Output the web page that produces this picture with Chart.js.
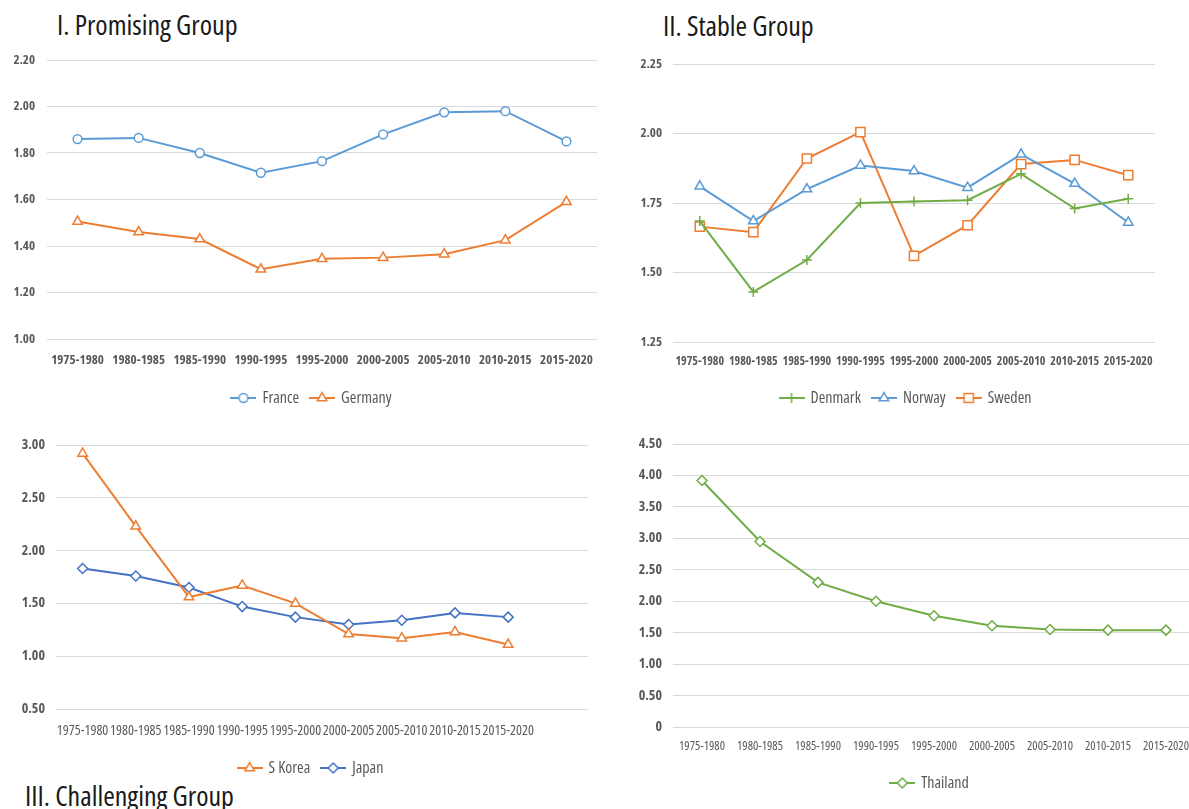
<!DOCTYPE html>
<html>
<head>
<meta charset="utf-8">
<script src="https://cdn.jsdelivr.net/npm/chart.js@4.4.0/dist/chart.umd.min.js"></script>
<style>
  html, body { margin: 0; padding: 0; background: #fff; width: 1189px; height: 809px; overflow: hidden; position: relative; }
  canvas { position: absolute; }
  .title { position: absolute; font-family: 'Open Sans', sans-serif; font-stretch: condensed; font-size: 28px; line-height: 1; color: #1a1a1a; white-space: nowrap; }
</style>
</head>
<body>
<div class="title" style="left:57px; top:10px;">I. Promising Group</div>
<div class="title" style="left:663px; top:11px;">II. Stable Group</div>
<div class="title" style="left:25px; top:781px;">III. Challenging Group</div>

<canvas id="promising" width="624" height="376" style="left:0px; top:40px;"></canvas>
<canvas id="stable" width="612" height="376" style="left:600px; top:40px;"></canvas>
<canvas id="challenging" width="622" height="366" style="left:0px; top:420px;"></canvas>
<canvas id="thailand" width="660" height="381" style="left:600px; top:420px;"></canvas>

<script>
// Five-year periods shared by every panel
const periods = ['1975-1980', '1980-1985', '1985-1990', '1990-1995', '1995-2000',
                 '2000-2005', '2005-2010', '2010-2015', '2015-2020'];
// The challenging-group panel leaves one empty slot at the right end
const challengingSlots = [...periods, ''];

// Total fertility rate per period
const franceTFR   = [1.86, 1.865, 1.80, 1.715, 1.765, 1.88, 1.975, 1.98, 1.85];
const germanyTFR  = [1.505, 1.46, 1.43, 1.30, 1.345, 1.35, 1.365, 1.425, 1.59];
const denmarkTFR  = [1.685, 1.43, 1.545, 1.75, 1.755, 1.76, 1.855, 1.73, 1.765];
const norwayTFR   = [1.81, 1.685, 1.80, 1.885, 1.865, 1.805, 1.925, 1.82, 1.68];
const swedenTFR   = [1.665, 1.645, 1.91, 2.005, 1.56, 1.67, 1.89, 1.905, 1.85];
const skoreaTFR   = [2.92, 2.23, 1.56, 1.67, 1.50, 1.21, 1.17, 1.23, 1.11];
const japanTFR    = [1.83, 1.76, 1.65, 1.47, 1.37, 1.30, 1.34, 1.41, 1.37];
const thailandTFR = [3.92, 2.95, 2.30, 2.00, 1.77, 1.61, 1.55, 1.54, 1.54];

// Y-axis ranges: [min, max, step]
const promisingRange   = [1.0, 2.2, 0.2];
const stableRange      = [1.25, 2.25, 0.25];
const challengingRange = [0.5, 3.0, 0.5];
const thailandRange    = [0, 4.5, 0.5];

const FONT = "'Open Sans', sans-serif";
const TEXT = '#595959';
const GRID = '#D9D9D9';
const BLUE = '#5B9BD5', ORANGE = '#ED7D31', GREEN = '#70AD47', NAVY = '#4472C4';

// Chart.js only emits style/weight/size/family, so add the condensed width
// to every font string the chart sets on its drawing context.
function useCondensedText(canvas) {
  const ctx = canvas.getContext('2d');
  const fontProp = Object.getOwnPropertyDescriptor(CanvasRenderingContext2D.prototype, 'font');
  Object.defineProperty(ctx, 'font', {
    configurable: true,
    get() { return fontProp.get.call(this); },
    set(v) { fontProp.set.call(this, /condensed/.test(v) ? v : 'condensed ' + v); }
  });
  return canvas;
}

// Outline marker path, shared by the legend swatches
function markerPath(g, style, x, y, r) {
  g.beginPath();
  if (style === 'circle') {
    g.arc(x, y, r, 0, Math.PI * 2);
  } else if (style === 'triangle') {
    for (let k = 0; k < 3; k++) {
      const a = k * 2 * Math.PI / 3;
      const px = x + Math.sin(a) * r, py = y - Math.cos(a) * r;
      k ? g.lineTo(px, py) : g.moveTo(px, py);
    }
    g.closePath();
  } else if (style === 'rect') {
    const s = Math.SQRT1_2 * r;
    g.rect(x - s, y - s, 2 * s, 2 * s);
  } else if (style === 'rectRot') {
    g.moveTo(x - r, y); g.lineTo(x, y - r); g.lineTo(x + r, y); g.lineTo(x, y + r); g.closePath();
  } else if (style === 'cross') {
    g.moveTo(x, y - r); g.lineTo(x, y + r); g.moveTo(x - r, y); g.lineTo(x + r, y);
  }
}

// Small line-with-marker swatch used as the legend symbol
function legendSwatch(color, style, r) {
  const c = document.createElement('canvas');
  c.width = 26; c.height = 16;
  const g = c.getContext('2d');
  g.strokeStyle = color;
  g.lineWidth = 2;
  g.beginPath(); g.moveTo(0, 8); g.lineTo(26, 8); g.stroke();
  g.lineWidth = 1.5;
  g.fillStyle = '#fff';
  markerPath(g, style, 13, 8, r);
  if (style !== 'cross') g.fill();
  g.stroke();
  return c;
}

function series(label, data, color, style, r) {
  return {
    label, data,
    borderColor: color, backgroundColor: color,
    borderWidth: 2, tension: 0, fill: false,
    pointStyle: style, pointRadius: r, pointHoverRadius: r,
    pointBackgroundColor: '#fff', pointBorderColor: color, pointBorderWidth: 1.5,
    swatch: legendSwatch(color, style, r)
  };
}

function buildChart(id, labels, datasets, g) {
  const [min, max, step] = g.range;
  return new Chart(useCondensedText(document.getElementById(id)), {
    type: 'line',
    data: { labels, datasets },
    options: {
      responsive: false,
      animation: false,
      events: [],
      layout: { padding: { top: g.top, left: 0, right: 0, bottom: 0 } },
      scales: {
        x: {
          offset: true,
          grid: { display: false, drawTicks: false, tickLength: 0 },
          border: { display: false },
          ticks: {
            autoSkip: false, maxRotation: 0, minRotation: 0,
            padding: g.xPad, color: TEXT,
            font: { family: FONT, size: g.xSize, weight: g.xWeight }
          },
          afterFit: s => { s.height = g.xHeight; }
        },
        y: {
          min, max,
          grid: { color: GRID, lineWidth: 1, drawTicks: false, tickLength: 0 },
          border: { display: false },
          ticks: {
            stepSize: step, padding: g.yPad, color: TEXT,
            font: { family: FONT, size: g.ySize, weight: 'bold' },
            callback: v => (Math.abs(v) < 1e-9 ? '0' : Number(v).toFixed(2))
          },
          afterFit: s => { s.width = g.yWidth; }
        },
        yR: {
          type: 'linear', position: 'right', display: true,
          grid: { display: false }, border: { display: false },
          ticks: { display: false },
          afterFit: s => { s.width = g.rightGap; }
        }
      },
      plugins: {
        tooltip: { enabled: false },
        legend: {
          position: 'bottom',
          labels: {
            usePointStyle: true,
            pointStyleWidth: 22,
            padding: 12,
            color: TEXT,
            font: { family: FONT, size: 16 },
            generateLabels: chart => chart.data.datasets.map((ds, i) => ({
              text: ds.label,
              pointStyle: ds.swatch,
              datasetIndex: i,
              fontColor: TEXT,
              hidden: false,
              lineWidth: 0,
              strokeStyle: 'rgba(0,0,0,0)',
              fillStyle: 'rgba(0,0,0,0)'
            }))
          }
        }
      }
    }
  });
}

buildChart('promising', periods, [
  series('France', franceTFR, BLUE, 'circle', 4.4),
  series('Germany', germanyTFR, ORANGE, 'triangle', 5.5)
], { range: promisingRange, top: 20, yWidth: 47, yPad: 12, ySize: 13,
     xHeight: 39, xPad: 13, xSize: 13, xWeight: 'bold', rightGap: 27 });

buildChart('stable', periods, [
  series('Denmark', denmarkTFR, GREEN, 'cross', 5),
  series('Norway', norwayTFR, BLUE, 'triangle', 5.5),
  series('Sweden', swedenTFR, ORANGE, 'rect', 6.5)
], { range: stableRange, top: 24, yWidth: 73, yPad: 11, ySize: 13,
     xHeight: 36, xPad: 12, xSize: 12, xWeight: 'bold', rightGap: 57 });

buildChart('challenging', challengingSlots, [
  series('S Korea', skoreaTFR, ORANGE, 'triangle', 5.5),
  series('Japan', japanTFR, NAVY, 'rectRot', 5)
], { range: challengingRange, top: 25, yWidth: 56, yPad: 11, ySize: 14,
     xHeight: 39, xPad: 14, xSize: 14, xWeight: 'normal', rightGap: 34 });

buildChart('thailand', periods, [
  series('Thailand', thailandTFR, GREEN, 'rectRot', 5)
], { range: thailandRange, top: 24, yWidth: 73, yPad: 11, ySize: 14,
     xHeight: 36, xPad: 12, xSize: 12.5, xWeight: 'normal', rightGap: 65 });
</script>
</body>
</html>
